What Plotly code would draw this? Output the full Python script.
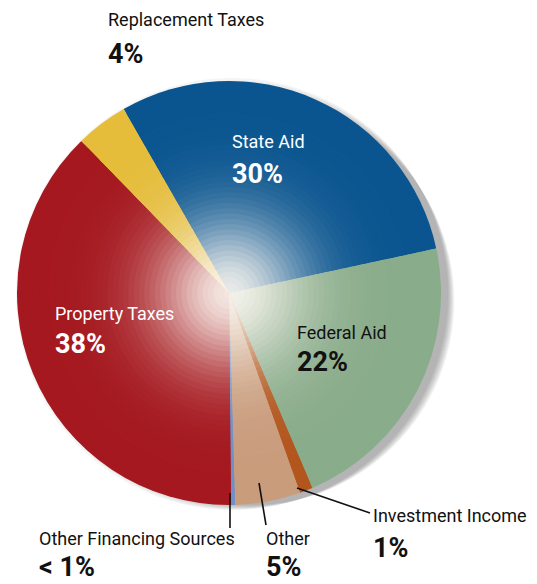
import math
import plotly.graph_objects as go

# data
labels = ["State Aid", "Federal Aid", "Investment Income", "Other",
          "Other Financing Sources", "Property Taxes", "Replacement Taxes"]
values = [30, 22, 1, 5, 0.3, 38, 4]
pct_text = ["30%", "22%", "1%", "5%", "< 1%", "38%", "4%"]
base_colors = ["#0a5590", "#89ac8a", "#b3561e", "#c99c7c",
               "#6f8fc8", "#a5181f", "#e5bd3a"]

# page body has an 8px margin, so the figure starts at (8, 8)
OFF = 8
W, H = 537 - OFF, 584 - OFF
cx, cy, R = 229, 293, 212
FONT = "Roboto, Liberation Sans, sans-serif"


def px(x):
    return (x - OFF) / W


def py(y):
    return 1 - (y - OFF) / H


def blend(hexcol, t):
    h = hexcol.lstrip("#")
    r, g, b = int(h[0:2], 16), int(h[2:4], 16), int(h[4:6], 16)
    wr, wg, wb = 250, 246, 240
    return "rgb(%d,%d,%d)" % (r + (wr - r) * t, g + (wg - g) * t, b + (wb - b) * t)


fig = go.Figure()

# layered pies to fake the radial shading
n_layers = 40
for k in range(n_layers):
    f = 1 - k / n_layers
    t = 0.93 * math.exp(-(f / 0.37) ** 2)
    r = R * f
    fig.add_trace(go.Pie(
        labels=labels, values=values, sort=False, direction="clockwise",
        rotation=-29.8, textinfo="none", hoverinfo="skip", showlegend=False,
        marker=dict(colors=[blend(c, t) for c in base_colors], line=dict(width=0)),
        domain=dict(x=[px(cx - r), px(cx + r)], y=[py(cy + r), py(cy - r)]),
    ))

# soft drop shadow towards the lower right
shapes = []
for i in range(9):
    ox = 3 + i * 2.3
    oy = 1 + i * 0.9
    rr = R + 4 - i * 1.5
    shapes.append(dict(type="circle", xref="paper", yref="paper", layer="below",
                       x0=px(cx + ox - rr), x1=px(cx + ox + rr),
                       y0=py(cy + oy + rr), y1=py(cy + oy - rr),
                       fillcolor="rgba(70,70,80,0.055)", line=dict(width=0)))

# leader lines
for (x0, y0, x1, y1) in [(230, 493, 230, 528), (259, 483, 266, 525), (297, 488, 370, 513)]:
    shapes.append(dict(type="line", xref="paper", yref="paper",
                       x0=px(x0), y0=py(y0), x1=px(x1), y1=py(y1),
                       line=dict(color="#111111", width=1.6)))

# label positions: left x, cap top of name, cap top of percent, colour
label_pos = {
    "State Aid": (232, 134, 165, "white"),
    "Federal Aid": (297, 325, 353, "#111111"),
    "Investment Income": (373, 508, 539, "#111111"),
    "Other": (266, 531, 558, "#111111"),
    "Other Financing Sources": (39, 531, 558, "#111111"),
    "Property Taxes": (55, 306, 335, "white"),
    "Replacement Taxes": (108, 12, 45, "#111111"),
}
annotations = []
for name, pct in zip(labels, pct_text):
    x, y1, y2, col = label_pos[name]
    annotations.append(dict(x=px(x), y=py(y1 - 5), xref="paper", yref="paper",
                            xanchor="left", yanchor="top", showarrow=False,
                            text=name, xshift=-2,
                            font=dict(family=FONT, size=18, color=col)))
    annotations.append(dict(x=px(x), y=py(y2 - 9), xref="paper", yref="paper",
                            xanchor="left", yanchor="top", showarrow=False,
                            text="<b>%s</b>" % pct, xshift=-2,
                            font=dict(family=FONT, size=27, color=col)))

fig.update_layout(
    width=W, height=H,
    margin=dict(l=0, r=0, t=0, b=0),
    paper_bgcolor="white", plot_bgcolor="white",
    shapes=shapes, annotations=annotations,
)

fig.write_html("out.html")
